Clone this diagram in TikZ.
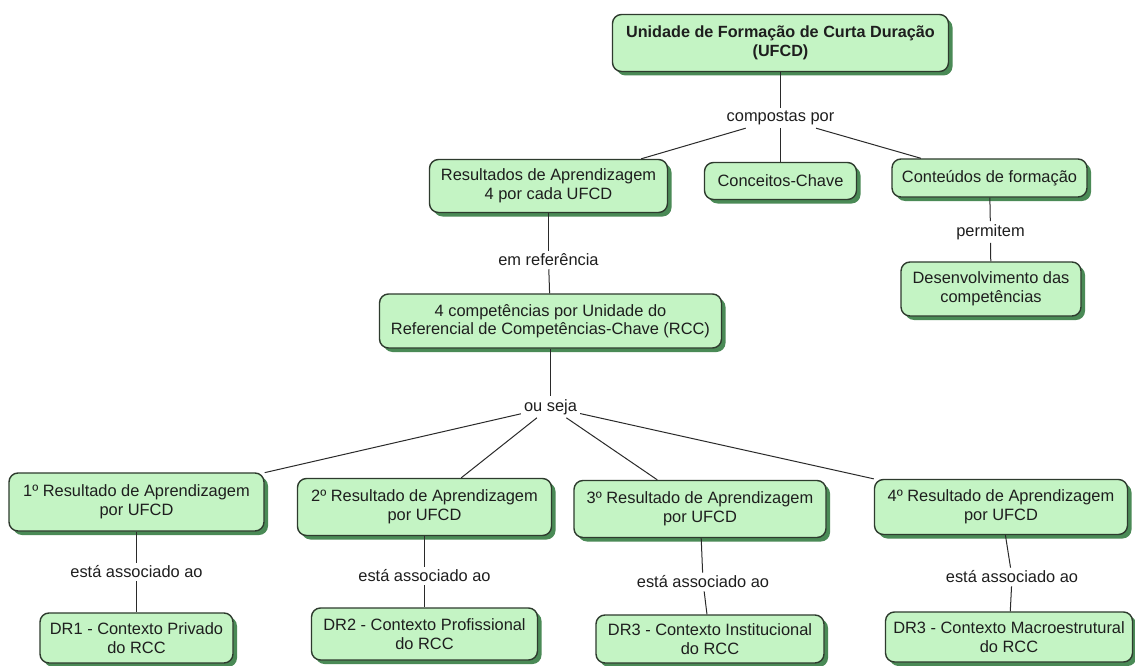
\documentclass[tikz,border=0pt]{standalone}
\usepackage{fontspec}
\setmainfont{Liberation Sans}
\usetikzlibrary{shadows}
\definecolor{boxfill}{HTML}{C4F4C4}
\definecolor{boxline}{HTML}{2E3B2E}
\definecolor{boxshadow}{HTML}{4A8A56}
\definecolor{linkline}{HTML}{2A2A2A}
\definecolor{txt}{HTML}{1E1E1E}
\tikzset{
  concept/.style={draw=boxline, line width=1.4pt, fill=boxfill, rounded corners=9pt,
    align=center, text=txt, inner sep=2pt, font=\fontsize{16.4}{18.5}\selectfont,
    drop shadow={shadow xshift=4pt, shadow yshift=-4pt, fill=boxshadow, opacity=1}},
  linkword/.style={text=txt, inner sep=3pt, font=\fontsize{16.4}{18.5}\selectfont},
  link/.style={draw=linkline, line width=1pt},
}
\begin{document}
\begin{tikzpicture}[x=1pt,y=-1pt]
\useasboundingbox[fill=white] (0,0) rectangle (1135,666);

% top concept and its parts
\node[concept, font=\fontsize{16.2}{18.5}\selectfont\bfseries, minimum width=336pt, minimum height=57pt] (ufcd) at (780.5,43)
  {Unidade de Formação de Curta Duração\\(UFCD)};
\node[linkword] (comp) at (780.5,118) {compostas por};
\node[concept, minimum width=238pt, minimum height=53pt] (res) at (548.5,186)
  {Resultados de Aprendizagem\\4 por cada UFCD};
\node[concept, minimum width=152pt, minimum height=37pt] (conc) at (780.5,181) {Conceitos-Chave};
\node[concept, minimum width=195pt, minimum height=38pt] (cont) at (989.5,178) {Conteúdos de formação};
\node[linkword] (perm) at (990.5,232) {permitem};
\node[concept, minimum width=180pt, minimum height=54pt] (dev) at (991,289)
  {Desenvolvimento das\\competências};

% reference competences
\node[linkword] (emref) at (548.5,260) {em referência};
\node[concept, minimum width=342pt, minimum height=54pt] (rcc) at (550.5,321)
  {4 competências por Unidade do\\Referencial de Competências-Chave (RCC)};
\node[linkword] (ou) at (550.5,407) {ou seja};

% learning outcomes
\node[concept, minimum width=255pt, minimum height=58pt] (r1) at (136.5,502)
  {1º Resultado de Aprendizagem\\por UFCD};
\node[concept, minimum width=254pt, minimum height=57pt] (r2) at (424.5,507)
  {2º Resultado de Aprendizagem\\por UFCD};
\node[concept, minimum width=252pt, minimum height=57pt] (r3) at (700,509)
  {3º Resultado de Aprendizagem\\por UFCD};
\node[concept, minimum width=253pt, minimum height=55pt] (r4) at (1001,507)
  {4º Resultado de Aprendizagem\\por UFCD};

\node[linkword] (a1) at (136.5,572) {está associado ao};
\node[linkword] (a2) at (424.5,576) {está associado ao};
\node[linkword] (a3) at (703,582) {está associado ao};
\node[linkword] (a4) at (1012,577) {está associado ao};

% domains of reference
\node[concept, minimum width=193pt, minimum height=50pt] (d1) at (136.5,638)
  {DR1 - Contexto Privado\\do RCC};
\node[concept, minimum width=226pt, minimum height=52pt] (d2) at (424.5,634)
  {DR2 - Contexto Profissional\\do RCC};
\node[concept, minimum width=228pt, minimum height=48pt] (d3) at (710,639)
  {DR3 - Contexto Institucional\\do RCC};
\node[concept, minimum width=247pt, minimum height=50pt] (d4) at (1009,637)
  {DR3 - Contexto Macroestrutural\\do RCC};

% connectors
\draw[link] (ufcd) -- (comp);
\draw[link] (comp) -- (res);
\draw[link] (comp) -- (conc);
\draw[link] (comp) -- (cont);
\draw[link] (cont) -- (perm);
\draw[link] (perm) -- (dev);
\draw[link] (res) -- (emref);
\draw[link] (emref) -- (rcc);
\draw[link] (rcc) -- (ou);
\draw[link] (ou) -- (r1);
\draw[link] (ou) -- (r2);
\draw[link] (ou) -- (r3);
\draw[link] (ou) -- (r4);
\draw[link] (r1) -- (a1);
\draw[link] (a1) -- (d1);
\draw[link] (r2) -- (a2);
\draw[link] (a2) -- (d2);
\draw[link] (r3) -- (a3);
\draw[link] (a3) -- (d3);
\draw[link] (r4) -- (a4);
\draw[link] (a4) -- (d4);
\end{tikzpicture}
\end{document}
